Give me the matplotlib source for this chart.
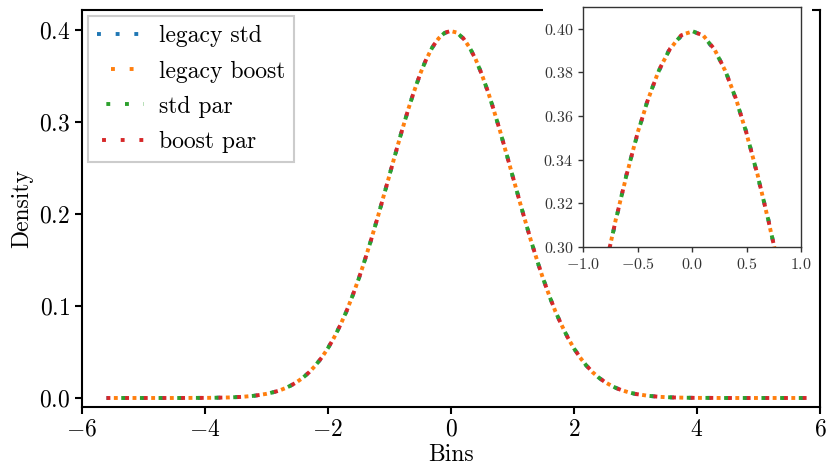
import matplotlib
matplotlib.use("Agg")
import matplotlib.pyplot as plt
from matplotlib.lines import Line2D
from matplotlib.patches import Rectangle

plt.rcParams["font.family"] = "serif"
plt.rcParams["font.serif"] = ["cmr10"]
plt.rcParams["mathtext.fontset"] = "cm"
plt.rcParams["axes.formatter.use_mathtext"] = True
plt.rcParams["font.size"] = 17

# bin centres (coarse in the tails, fine in the body)
tail_left = [-5.6, -5.4, -5.2, -5.0, -4.8, -4.6, -4.4, -4.2, -4.0, -3.8, -3.6, -3.4, -3.2]
body = [-3.0, -2.9, -2.8, -2.7, -2.6, -2.5, -2.4, -2.3, -2.2, -2.1,
        -2.0, -1.9, -1.8, -1.7, -1.6, -1.5, -1.4, -1.3, -1.2, -1.1,
        -1.0, -0.9, -0.8, -0.7, -0.6, -0.5, -0.4, -0.3, -0.2, -0.1,
        0.0, 0.1, 0.2, 0.3, 0.4, 0.5, 0.6, 0.7, 0.8, 0.9,
        1.0, 1.1, 1.2, 1.3, 1.4, 1.5, 1.6, 1.7, 1.8, 1.9,
        2.0, 2.1, 2.2, 2.3, 2.4, 2.5, 2.6, 2.7, 2.8, 2.9, 3.0]
tail_right = [3.2, 3.4, 3.6, 3.8, 4.0, 4.2, 4.4, 4.6, 4.8, 5.0, 5.2, 5.4, 5.6, 5.8]
bins = tail_left + body + tail_right

left_tail_density = [0.0000, 0.0000, 0.0000, 0.0000, 0.0000, 0.0000, 0.0000,
                     0.0001, 0.0001, 0.0003, 0.0006, 0.0012, 0.0024]
right_tail_density = [0.0024, 0.0012, 0.0006, 0.0003, 0.0001, 0.0001,
                      0.0000, 0.0000, 0.0000, 0.0000, 0.0000, 0.0000, 0.0000, 0.0000]

legacy_std = left_tail_density + [
    0.0044, 0.0060, 0.0080, 0.0103, 0.0137, 0.0174, 0.0225, 0.0282, 0.0356, 0.0438,
    0.0542, 0.0655, 0.0792, 0.0938, 0.1111, 0.1293, 0.1499, 0.1712, 0.1945, 0.2176,
    0.2423, 0.2658, 0.2900, 0.3120, 0.3335, 0.3518, 0.3686, 0.3811, 0.3914, 0.3966,
    0.3991, 0.3968, 0.3907, 0.3817, 0.3680, 0.3524, 0.3329, 0.3126, 0.2894, 0.2664,
    0.2417, 0.2182, 0.1939, 0.1716, 0.1494, 0.1298, 0.1107, 0.0942, 0.0788, 0.0658,
    0.0538, 0.0442, 0.0353, 0.0285, 0.0222, 0.0176, 0.0135, 0.0105, 0.0078, 0.0061,
    0.0043] + right_tail_density

legacy_boost = left_tail_density + [
    0.0045, 0.0059, 0.0078, 0.0105, 0.0135, 0.0176, 0.0223, 0.0284, 0.0354, 0.0441,
    0.0539, 0.0657, 0.0789, 0.0941, 0.1108, 0.1296, 0.1495, 0.1716, 0.1940, 0.2181,
    0.2418, 0.2663, 0.2895, 0.3125, 0.3330, 0.3523, 0.3681, 0.3816, 0.3908, 0.3972,
    0.3987, 0.3971, 0.3912, 0.3812, 0.3685, 0.3519, 0.3334, 0.3121, 0.2899, 0.2659,
    0.2422, 0.2177, 0.1944, 0.1712, 0.1499, 0.1293, 0.1111, 0.0938, 0.0792, 0.0654,
    0.0541, 0.0439, 0.0356, 0.0282, 0.0225, 0.0174, 0.0137, 0.0103, 0.0080, 0.0059,
    0.0045] + right_tail_density

std_par = left_tail_density + [
    0.0043, 0.0061, 0.0079, 0.0104, 0.0136, 0.0177, 0.0224, 0.0281, 0.0357, 0.0439,
    0.0541, 0.0654, 0.0791, 0.0939, 0.1110, 0.1294, 0.1498, 0.1713, 0.1943, 0.2178,
    0.2421, 0.2660, 0.2898, 0.3122, 0.3333, 0.3520, 0.3684, 0.3813, 0.3911, 0.3969,
    0.3990, 0.3969, 0.3909, 0.3815, 0.3682, 0.3522, 0.3331, 0.3124, 0.2896, 0.2662,
    0.2419, 0.2180, 0.1941, 0.1715, 0.1496, 0.1296, 0.1108, 0.0941, 0.0789, 0.0657,
    0.0539, 0.0441, 0.0354, 0.0284, 0.0223, 0.0176, 0.0136, 0.0104, 0.0079, 0.0060,
    0.0044] + right_tail_density

boost_par = left_tail_density + [
    0.0044, 0.0060, 0.0079, 0.0104, 0.0136, 0.0175, 0.0224, 0.0283, 0.0355, 0.0440,
    0.0540, 0.0656, 0.0790, 0.0940, 0.1109, 0.1295, 0.1497, 0.1714, 0.1942, 0.2179,
    0.2420, 0.2661, 0.2897, 0.3123, 0.3332, 0.3521, 0.3683, 0.3814, 0.3910, 0.3970,
    0.3989, 0.3970, 0.3910, 0.3814, 0.3683, 0.3521, 0.3332, 0.3123, 0.2897, 0.2661,
    0.2420, 0.2179, 0.1942, 0.1714, 0.1497, 0.1295, 0.1109, 0.0940, 0.0790, 0.0656,
    0.0540, 0.0440, 0.0355, 0.0283, 0.0224, 0.0175, 0.0136, 0.0104, 0.0079, 0.0060,
    0.0044] + right_tail_density

labels = ["legacy std", "legacy boost", "std par", "boost par"]
values = [legacy_std, legacy_boost, std_par, boost_par]
colors = ["#1f77b4", "#ff7f0e", "#2ca02c", "#d62728"]

LW = 2.8
DASH = (1, 3.8)
# dot phase on the curves (blue/green/red bunch up, orange sits in the gap)
# and in the legend (dots spread out)
curve_offsets = [0.5, 2.9, 1.0, 0.0]
legend_offsets = [0.0, 1.2, 2.4, 3.5]

fig = plt.figure(figsize=(8.27, 4.66), dpi=100)
ax = fig.add_axes([0.099, 0.1266, 0.8925, 0.852], zorder=0)

for dens, col, off in zip(values, colors, curve_offsets):
    ax.plot(bins, dens, color=col, lw=LW, ls=(off, DASH))

ax.set_xlim(-6, 6)
ax.set_ylim(-0.0098, 0.4217)
ax.set_xticks([-6, -4, -2, 0, 2, 4, 6])
ax.set_yticks([0.0, 0.1, 0.2, 0.3, 0.4])
ax.set_xlabel("Bins", labelpad=2)
ax.set_ylabel("Density")
for s in ax.spines.values():
    s.set_linewidth(1.5)
ax.tick_params(direction="out", length=5, width=1.5)

handles = [Line2D([], [], color=col, lw=LW, ls=(off, DASH))
           for col, off in zip(colors, legend_offsets)]
leg = ax.legend(handles, labels, loc="upper left", fancybox=False, borderaxespad=0.25,
                handlelength=2.0, handletextpad=0.6, framealpha=1.0, labelspacing=0.55)
leg.get_frame().set_edgecolor("#cccccc")
leg.get_frame().set_linewidth(1.5)

# zoomed view of the peak
axins = fig.add_axes([0.705, 0.47, 0.2636, 0.515], zorder=3)
for dens, col, off in zip(values, colors, curve_offsets):
    axins.plot(bins, dens, color=col, lw=LW, ls=(off, DASH))
axins.set_xlim(-1, 1)
axins.set_ylim(0.30, 0.41)
axins.set_xticks([-1.0, -0.5, 0.0, 0.5, 1.0])
axins.set_yticks([0.30, 0.32, 0.34, 0.36, 0.38, 0.40])
axins.tick_params(labelsize=11.5, length=3.5, width=1.0, colors="#333333")
for s in axins.spines.values():
    s.set_linewidth(1.0)
    s.set_edgecolor("#333333")

# white backing behind the inset and its labels
fig.canvas.draw()
bb = axins.get_tightbbox(fig.canvas.get_renderer()).transformed(fig.transFigure.inverted())
fig.patches.append(Rectangle((bb.x0, bb.y0), bb.width, bb.height + 0.02,
                             transform=fig.transFigure, facecolor="white",
                             edgecolor="none", zorder=2))

fig.savefig("out.png", dpi=100)
